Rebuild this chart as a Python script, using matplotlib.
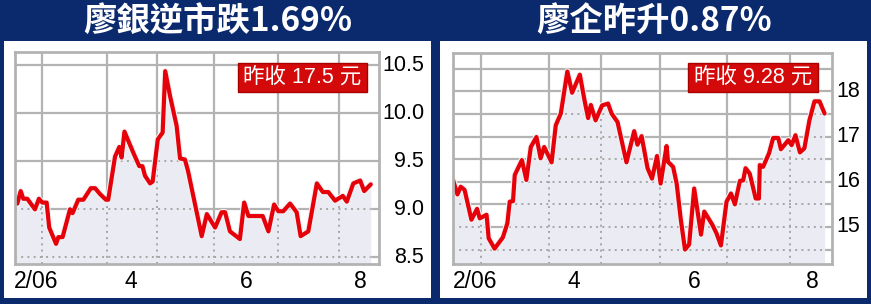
import matplotlib
matplotlib.use('Agg')
import matplotlib.pyplot as plt
from matplotlib.patches import Rectangle
import matplotlib.patheffects as pe
import matplotlib.transforms as mtransforms

# ---------------- data ----------------
bank_days = [0, 0.8, 2.0, 2.9, 4.3, 7.0, 8.4, 9.6, 11.1, 12.0, 14.4, 15.2, 16.7, 19.3, 20.2,
             22.2, 24.0, 26.6, 28.1, 29.8, 31.9, 32.7, 35.1, 36.6, 37.4, 38.4, 41.5, 43.6,
             44.7, 45.6, 47.4, 48.3, 50.1, 51.8, 52.7, 54.4, 56.7, 57.9, 59.6, 60.7, 65.5,
             67.3, 70.2, 72.5, 73.7, 75.4, 78.9, 80.4, 81.9, 86.9, 88.9, 90.9, 92.4, 94.1,
             96.5, 98.8, 100.2, 102.9, 105.9, 108.0, 109.9, 112.3, 115.0, 116.4, 118.7,
             121.1, 122.5, 124.8]
bank_close = [9.10, 9.06, 9.19, 9.11, 9.11, 9.00, 9.11, 9.07, 9.07, 8.81, 8.64, 8.71, 8.71,
              9.00, 8.96, 9.10, 9.10, 9.22, 9.22, 9.16, 9.10, 9.10, 9.55, 9.65, 9.54, 9.81,
              9.59, 9.45, 9.45, 9.35, 9.27, 9.29, 9.73, 9.80, 10.44, 10.18, 9.87, 9.53, 9.52,
              9.40, 8.72, 8.95, 8.81, 8.97, 8.97, 8.77, 8.69, 9.07, 8.93, 8.93, 8.77, 9.05,
              8.98, 8.98, 9.06, 8.97, 8.72, 8.77, 9.27, 9.18, 9.18, 9.09, 9.14, 9.08, 9.27,
              9.30, 9.19, 9.26]

ent_days = [0, 1.5, 2.6, 3.9, 6.2, 8.1, 9.0, 11.3, 12.0, 14.0, 16.8, 18.3, 19.1, 20.2, 20.8,
            23.2, 24.7, 26.2, 28.1, 29.5, 30.7, 33.2, 34.6, 36.3, 38.5, 40.1, 42.7, 44.4,
            45.5, 46.4, 48.0, 50.2, 52.2, 53.4, 55.4, 58.4, 61.0, 62.1, 63.5, 65.5, 67.0,
            68.7, 69.9, 71.9, 72.4, 74.1, 75.3, 76.7, 78.1, 79.5, 81.2, 83.5, 84.6, 87.3,
            88.7, 90.2, 92.1, 93.6, 94.9, 96.6, 97.7, 98.5, 99.9, 101.9, 103.0, 103.3,
            104.4, 106.4, 107.8, 109.5, 110.4, 112.9, 114.0, 115.3, 116.8, 118.3, 120.0,
            121.7, 123.4, 125.1]
ent_close = [16.04, 15.72, 15.89, 15.82, 15.16, 15.40, 15.19, 15.27, 14.75, 14.52, 14.77,
             15.08, 15.56, 15.57, 16.15, 16.48, 16.04, 16.77, 16.99, 16.52, 16.77, 16.43,
             17.25, 17.51, 18.44, 17.97, 18.37, 17.76, 17.41, 17.70, 17.36, 17.69, 17.73,
             17.51, 17.32, 16.43, 17.12, 16.82, 17.01, 16.30, 16.07, 16.57, 15.96, 16.79,
             16.44, 16.33, 15.96, 15.16, 14.50, 14.61, 15.85, 14.83, 15.34, 15.05, 14.86,
             14.59, 15.56, 15.74, 15.50, 16.02, 16.03, 16.30, 16.18, 15.63, 15.63, 16.37,
             16.33, 16.63, 16.97, 16.97, 16.72, 16.92, 16.81, 17.03, 16.65, 16.74, 17.36,
             17.78, 17.78, 17.51]

grid_days = [9.4, 32.4, 49.7, 69.7, 92.4, 113.6]
month_ticks = [7.3, 40.6, 81.3, 121.0]
month_labels = ['2/06', '4', '6', '8']

bank_ygrid = [8.5, 9.0, 9.5, 10.0, 10.5]
bank_yticks = [8.5, 9.0, 9.5, 10.0, 10.5]
bank_ylabels = ['8.5', '9.0', '9.5', '10.0', '10.5']

ent_ygrid = [14.5, 15.0, 15.5, 16.0, 16.5, 17.0, 17.5, 18.0, 18.5]
ent_yticks = [15, 16, 17, 18]
ent_ylabels = ['15', '16', '17', '18']

titles = ['廖銀逆市跌1.69%', '廖企昨升0.87%']
notes = ['昨收 17.5 元', '昨收 9.28 元']

# ---------------- styling ----------------
W, H = 871, 304
BG = '#0b2a6e'
GRID = '#b3b3b3'
FILL = '#ebecf3'
RED = '#e6000a'
CJK = ['Noto Sans CJK TC', 'DejaVu Sans']
NUM = ['Liberation Sans', 'DejaVu Sans']
NOTE_FONT = ['Liberation Sans', 'Noto Sans CJK TC']

fig = plt.figure(figsize=(W / 100, H / 100), dpi=100, facecolor=BG)


def fx(x):
    return x / W


def fy(y):
    return 1 - y / H


def panel(x0, y0, x1, y1):
    fig.patches.append(Rectangle((fx(x0), fy(y1)), fx(x1) - fx(x0), fy(y0) - fy(y1),
                                 transform=fig.transFigure, facecolor='white',
                                 edgecolor='none', zorder=-5))


def chart(box, days, close, ygrid, yticks, ylabels, ylim, xlim, label_off, note, note_box):
    x0, y0, x1, y1 = box
    ax = fig.add_axes([fx(x0), fy(y1), fx(x1) - fx(x0), fy(y0) - fy(y1)])
    ax.set_facecolor('white')
    ax.set_xlim(*xlim)
    ax.set_ylim(*ylim)
    ax.set_xticks([])
    ax.set_yticks([])
    for s in ax.spines.values():
        s.set_color(GRID)
        s.set_linewidth(2.0)
        s.set_zorder(6)

    for g in ygrid:
        ax.axhline(g, color=GRID, lw=1.6, zorder=1)
    for g in grid_days:
        ax.axvline(g, color=GRID, lw=1.6, zorder=1)

    poly = ax.fill_between(days, close, ylim[0], color=FILL, lw=0, zorder=2)
    clip_path = poly.get_paths()[0]
    for g in ygrid:
        ln = ax.axhline(g, color='#a6a6a6', lw=1.4, ls=(0, (1, 2.2)), zorder=3)
        ln.set_clip_path(clip_path, ax.transData)
    for g in grid_days:
        ln = ax.axvline(g, color='#a6a6a6', lw=1.4, ls=(0, (1, 2.2)), zorder=3)
        ln.set_clip_path(clip_path, ax.transData)

    ax.plot(days, close, color=RED, lw=3.0, zorder=5, solid_joinstyle='round',
            solid_capstyle='round',
            path_effects=[pe.Stroke(linewidth=4.6, foreground='#f2f2f2', joinstyle='round'),
                          pe.Normal()])

    # y labels on the right
    tr = mtransforms.blended_transform_factory(fig.transFigure, ax.transData)
    for v, lab in zip(yticks, ylabels):
        fig.text(fx(label_off), v, lab, transform=tr, ha='right', va='center',
                 fontsize=15.5, family=NUM, color='black')
    # x labels
    trx = mtransforms.blended_transform_factory(ax.transData, fig.transFigure)
    for v, lab in zip(month_ticks, month_labels):
        fig.text(v, fy(282), lab, transform=trx, ha='center', va='center',
                 fontsize=16.5, family=NUM, color='black')

    # note box
    bx0, by0, bx1, by1 = note_box
    fig.patches.append(Rectangle((fx(bx0), fy(by1)), fx(bx1) - fx(bx0), fy(by0) - fy(by1),
                                 transform=fig.transFigure, facecolor='#d40a0a',
                                 edgecolor='#a80000', lw=1.0, zorder=10))
    fig.text(fx((bx0 + bx1) / 2), fy((by0 + by1) / 2), note, ha='center', va='center',
             fontsize=15.5, color='white', family=NOTE_FONT, zorder=11)
    return ax


panel(4, 41, 431, 298)
panel(440, 41, 867, 298)

chart((15, 52, 379, 264), bank_days, bank_close, bank_ygrid, bank_yticks, bank_ylabels,
      (8.43, 10.64), (0, 127.7), 424, notes[0], (238, 63, 367, 92))
chart((453, 53, 832, 264), ent_days, ent_close, ent_ygrid, ent_yticks, ent_ylabels,
      (14.18, 18.85), (0, 127.6), 860, notes[1], (688, 63, 818, 92))

fig.text(fx(218), fy(21), titles[0], ha='center', va='center', fontsize=24,
         weight='bold', color='white', family=CJK)
fig.text(fx(654), fy(21), titles[1], ha='center', va='center', fontsize=24,
         weight='bold', color='white', family=CJK)

fig.savefig('out.png', dpi=100, facecolor=BG)
